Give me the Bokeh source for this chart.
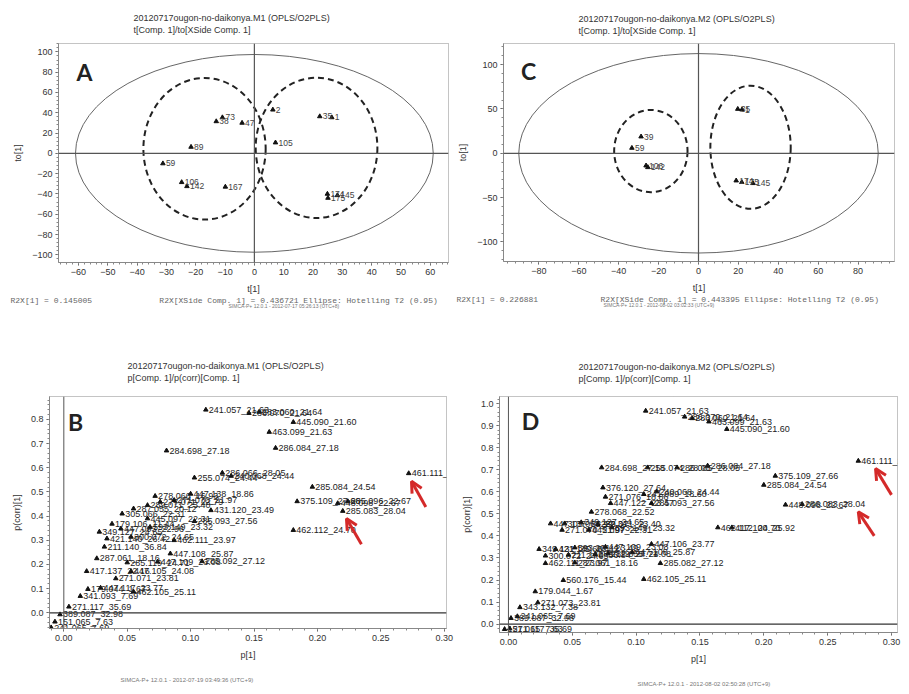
from bokeh.plotting import figure
from bokeh.models import (ColumnDataSource, Span, Label, Arrow, OpenHead, Title,
                          SingleIntervalTicker, PrintfTickFormatter, Range1d)
from bokeh.layouts import column, row
from bokeh.embed import file_html
from bokeh.resources import INLINE
from bokeh.core.properties import value

# ---------------- data: panel A (M1 scores) ----------------
a_labels = ["2", "35", "1", "73", "38", "47", "105", "89", "59", "106", "142", "167", "174", "175", "145"]
a_t = [6.3, 22.3, 26.4, -10.9, -13.0, -4.2, 7.2, -21.6, -31.2, -24.8, -23.0, -9.9, 24.9, 25.1, 28.3]
a_to = [43.0, 36.4, 35.4, 35.4, 31.5, 30.0, 10.6, 6.3, -10.0, -28.5, -32.5, -33.0, -40.0, -44.0, -41.4]
# ellipses: Hotelling T2 and group ellipses (cx, cy, width, height)
a_ell = dict(cx=[0.0], cy=[0.0], w=[122.0], h=[195.0])
a_groups = dict(cx=[-17.0, 21.2], cy=[4.5, 5.4], w=[41.7, 41.5], h=[139.6, 138.3])

# ---------------- data: panel C (M2 scores) ----------------
c_labels = ["39", "59", "106", "142", "35", "1", "174", "175", "145"]
c_t = [-28.8, -33.4, -26.3, -25.4, 19.7, 21.8, 18.9, 21.7, 27.3]
c_to = [18.8, 6.0, -13.9, -15.8, 49.9, 49.2, -30.8, -32.6, -33.8]
c_ell = dict(cx=[0.0], cy=[0.0], w=[180.3], h=[225.0])
c_groups = dict(cx=[-23.9, 26.1], cy=[2.5, 6.8], w=[36.8, 40.3], h=[92.7, 138.9])

# ---------------- data: panel B (M1 loadings) ----------------
b_labels = ["241.057_21.63", "286.070_21.64", "283.060_21.64", "445.090_21.60", "463.099_21.63",
            "284.698_27.18", "286.084_27.18", "461.111_22.70", "255.074_24.44", "286.066_28.05",
            "240.068_24.44", "285.084_24.54", "375.109_27.66", "448.098_22.67", "285.096_22.67",
            "285.083_28.04", "462.112_24.70", "278.066_16.93", "447.138_18.86", "277.071_22.79",
            "271.070_21.97", "289.071_23.40", "431.120_23.49", "305.066_22.31", "287.055_20.12",
            "179.106_11.44", "445.097_22.31", "285.093_27.56", "349.127_24.65", "447.093_22.96",
            "593.149_23.32", "421.140_26.42", "300.072_24.65", "462.111_23.97", "211.140_36.84",
            "447.108_25.87", "287.061_18.16", "285.092_27.12", "447.109_23.08", "285.119_24.71",
            "417.137_22.16", "447.105_24.08", "271.071_23.81", "179.044_1.67", "447.117_23.77",
            "462.105_25.11", "341.093_7.69", "271.117_35.69", "389.087_32.98", "151.065_7.63",
            "241.065_7.69"]
b_p = [0.112, 0.146, 0.154, 0.181, 0.162, 0.081, 0.167, 0.272, 0.103, 0.125,
       0.132, 0.196, 0.184, 0.216, 0.224, 0.220, 0.181, 0.072, 0.100, 0.076,
       0.087, 0.066, 0.116, 0.046, 0.055, 0.038, 0.066, 0.103, 0.028, 0.045,
       0.068, 0.034, 0.053, 0.087, 0.032, 0.084, 0.026, 0.109, 0.074, 0.050,
       0.018, 0.053, 0.041, 0.019, 0.029, 0.055, 0.013, 0.004, -0.003, -0.007,
       -0.010]
b_pcorr = [0.840, 0.826, 0.831, 0.789, 0.748, 0.671, 0.682, 0.577, 0.559, 0.579,
           0.566, 0.521, 0.461, 0.453, 0.461, 0.421, 0.342, 0.483, 0.492, 0.459,
           0.466, 0.445, 0.424, 0.410, 0.431, 0.368, 0.390, 0.379, 0.335, 0.348,
           0.355, 0.307, 0.314, 0.300, 0.273, 0.245, 0.225, 0.213, 0.211, 0.208,
           0.172, 0.172, 0.142, 0.098, 0.103, 0.087, 0.069, 0.025, -0.007, -0.037,
           -0.061]
b_arrows = dict(x0=[0.2855, 0.2347], y0=[0.438, 0.284], x1=[0.2742, 0.2229], y1=[0.544, 0.390])

# ---------------- data: panel D (M2 loadings) ----------------
d_labels = ["241.057_21.63", "286.070_21.64", "283.060_21.64", "463.099_21.63", "445.090_21.60",
            "461.111_22.70", "284.698_27.18", "255.074_28.05", "286.085_28.05", "286.084_27.18",
            "375.109_27.66", "285.084_24.54", "376.120_27.64", "240.068_24.44", "271.076_18.86",
            "241.089_18.60", "447.122_23.47", "285.093_27.56", "448.098_22.67", "286.083_28.04",
            "278.068_22.52", "447.137_22.17", "305.067_22.31", "349.127_24.65", "289.071_23.40",
            "271.070_21.97", "445.097_22.31", "593.149_23.32", "462.112_24.70", "417.100_25.92",
            "349.131_25.66", "421.140_26.42", "593.201_23.49", "447.109_23.08", "447.106_23.77",
            "300.072_24.65", "211.140_36.84", "285.119_24.71", "447.108_25.87", "287.055_24.08",
            "462.111_23.97", "287.061_18.16", "285.082_27.12", "560.176_15.44", "462.105_25.11",
            "179.044_1.67", "271.073_23.81", "343.132_7.38", "241.065_7.69", "389.087_32.98",
            "151.065_7.63", "271.117_35.69"]
d_p = [0.1075, 0.138, 0.144, 0.157, 0.171, 0.274, 0.073, 0.109, 0.132, 0.156,
       0.209, 0.200, 0.074, 0.116, 0.076, 0.106, 0.080, 0.112, 0.217, 0.230,
       0.065, 0.033, 0.044, 0.057, 0.070, 0.042, 0.063, 0.081, 0.164, 0.175,
       0.024, 0.037, 0.052, 0.076, 0.112, 0.029, 0.047, 0.068, 0.097, 0.078,
       0.029, 0.052, 0.119, 0.043, 0.106, 0.021, 0.023, 0.009, 0.007, 0.002,
       -0.003, 0.001]
d_pcorr = [0.967, 0.940, 0.933, 0.918, 0.884, 0.740, 0.710, 0.710, 0.710, 0.718,
           0.672, 0.631, 0.619, 0.601, 0.577, 0.589, 0.548, 0.548, 0.541, 0.544,
           0.509, 0.456, 0.456, 0.461, 0.453, 0.427, 0.427, 0.438, 0.438, 0.438,
           0.340, 0.340, 0.347, 0.350, 0.363, 0.310, 0.314, 0.317, 0.325, 0.320,
           0.276, 0.279, 0.276, 0.199, 0.204, 0.148, 0.098, 0.076, 0.035, 0.027,
           -0.023, -0.020]
d_arrows = dict(x0=[0.300, 0.2865], y0=[0.586, 0.400], x1=[0.2875, 0.274], y1=[0.705, 0.509])

FONT = "Liberation Sans"
MONO = "Liberation Mono"
RED = "#d42a2a"
NB = "\u00a0"


def make_fig(geo, xr, yr, xint, yint, xfmt=None, yfmt=None):
    bl, bt, fw, fh, br, bb = geo
    p = figure(frame_width=fw, frame_height=fh, min_border_left=bl, min_border_top=bt,
               min_border_right=br, min_border_bottom=bb,
               x_range=Range1d(*xr), y_range=Range1d(*yr),
               output_backend="svg", toolbar_location=None)
    p.xaxis.ticker = SingleIntervalTicker(interval=xint, num_minor_ticks=5)
    p.yaxis.ticker = SingleIntervalTicker(interval=yint, num_minor_ticks=5)
    if xfmt:
        p.xaxis.formatter = PrintfTickFormatter(format=xfmt)
    if yfmt:
        p.yaxis.formatter = PrintfTickFormatter(format=yfmt)
    for ax in (p.xaxis[0], p.yaxis[0]):
        ax.major_label_text_font = FONT
        ax.major_label_text_font_size = "9px"
        ax.major_label_text_color = "#333"
        ax.axis_label_text_font = FONT
        ax.axis_label_text_font_size = "9px"
        ax.axis_label_text_font_style = "normal"
        ax.axis_label_text_color = "#333"
        ax.axis_line_color = "#888"
        ax.major_tick_line_color = "#555"
        ax.minor_tick_line_color = "#888"
        ax.major_tick_out = 3
        ax.major_tick_in = 0
        ax.minor_tick_out = 2
        ax.minor_tick_in = 0
        ax.major_label_standoff = 3
        ax.axis_label_standoff = 6
    p.grid.visible = False
    p.outline_line_color = "#888"
    p.outline_line_dash = "1 1"
    p.background_fill_color = "white"
    p.border_fill_color = "white"
    return p


def add_title(p, side, text, offset, size, standoff=0, font=FONT, color="#333"):
    p.add_layout(Title(text=text, align="left", offset=offset, standoff=standoff,
                       text_font=font, text_font_size=f"{size}px", text_color=color,
                       text_font_style="normal", text_line_height=1.2), side)


def canvas_label(p, origin, px, py, text, size, font="Lato", color="#222"):
    p.add_layout(Label(x=px - origin[0], y=py - origin[1], x_units="canvas", y_units="canvas",
                       text=text, text_font=font, text_font_size=f"{size}px",
                       text_color=color, text_align="center", text_baseline="middle",
                       text_font_style="bold"))


def score_panel(p, ell, groups, xs, ys, labels):
    p.ellipse(x=ell["cx"], y=ell["cy"], width=ell["w"], height=ell["h"],
              fill_alpha=0, line_color="#666", line_width=1)
    p.ellipse(x=groups["cx"], y=groups["cy"], width=groups["w"], height=groups["h"],
              fill_alpha=0, line_color="#222", line_width=2, line_dash="6 4")
    p.add_layout(Span(location=0, dimension="width", line_color="#555", line_width=1.2))
    p.add_layout(Span(location=0, dimension="height", line_color="#555", line_width=1.2))
    src = ColumnDataSource(dict(x=xs, y=ys, t=labels))
    p.scatter("x", "y", source=src, marker="triangle", size=4.5, color="#111")
    p.text("x", "y", text="t", source=src, x_offset=3, text_baseline="middle",
           text_font=value(FONT), text_font_size="8.5px", text_color="#444")


def loading_panel(p, xs, ys, labels, arrows):
    p.add_layout(Span(location=0, dimension="width", line_color="#333", line_width=1.3))
    p.add_layout(Span(location=0, dimension="height", line_color="#555", line_width=1))
    src = ColumnDataSource(dict(x=xs, y=ys, t=labels))
    p.scatter("x", "y", source=src, marker="triangle", size=4.5, color="#111")
    p.text("x", "y", text="t", source=src, x_offset=3, text_baseline="middle",
           text_font=value(FONT), text_font_size="9px", text_color="#222")
    for i in range(len(arrows["x0"])):
        p.add_layout(Arrow(x_start=arrows["x0"][i], y_start=arrows["y0"][i],
                           x_end=arrows["x1"][i], y_end=arrows["y1"][i],
                           line_color=RED, line_width=3,
                           end=OpenHead(size=11, line_color=RED, line_width=3)))


# ---------------- panel A ----------------
pA = make_fig((58, 43, 390, 219, 6, 61), (-66.8, 66.2), (-107.6, 108.3), 10, 20)
pA.xaxis.axis_label = "t[1]"
pA.yaxis.axis_label = "to[1]"
score_panel(pA, a_ell, a_groups, a_t, a_to, a_labels)
add_title(pA, "above", "20120717ougon-no-daikonya.M1 (OPLS/O2PLS)\nt[Comp. 1]/to[XSide Comp. 1]", 75, 9, standoff=17)
add_title(pA, "below", "R2X[1] = 0.145005" + NB * 14 +
          "R2X[XSide Comp. 1] = 0.436721 Ellipse: Hotelling T2 (0.95)", -48, 8, standoff=-6, font=MONO, color="#666")
add_title(pA, "below", "SIMCA-P+ 12.0.1 - 2012-07-17 05:26:13 (UTC+8)", 170, 5, standoff=-1, color="#777")
canvas_label(pA, (0, 0), 84, 71, "A", 23)

# ---------------- panel C ----------------
pC = make_fig((49, 41, 391, 218, 7, 64), (-97.8, 98.3), (-122.0, 123.8), 20, 50)
pC.xaxis.axis_label = "t[1]"
pC.yaxis.axis_label = "to[1]"
score_panel(pC, c_ell, c_groups, c_t, c_to, c_labels)
add_title(pC, "above", "20120717ougon-no-daikonya.M2 (OPLS/O2PLS)\nt[Comp. 1]/to[XSide Comp. 1]", 75, 9, standoff=15)
add_title(pC, "below", "R2X[1] = 0.226881" + NB * 13 +
          "R2X[XSide Comp. 1] = 0.443395 Ellipse: Hotelling T2 (0.95)", -47, 8, standoff=-6, font=MONO, color="#666")
add_title(pC, "below", "SIMCA-P+ 12.0.1 - 2012-08-02 03:02:33 (UTC+9)", 100, 5, standoff=-1, color="#777")
canvas_label(pC, (454, 0), 528, 70, "C", 23)

# ---------------- panel B ----------------
pB = make_fig((49, 71, 397, 232, 8, 66), (-0.0113, 0.3018), (-0.065, 0.895), 0.05, 0.1, "%.2f", "%.1f")
pB.xaxis.axis_label = "p[1]"
pB.yaxis.axis_label = "p(corr)[1]"
loading_panel(pB, b_p, b_pcorr, b_labels, b_arrows)
add_title(pB, "above", "20120717ougon-no-daikonya.M1 (OPLS/O2PLS)\np[Comp. 1]/p(corr)[Comp. 1]", 78, 9, standoff=27)
add_title(pB, "below", "SIMCA-P+ 12.0.1 - 2012-07-19 03:49:36 (UTC+9)", 71, 6, standoff=25, color="#777")
canvas_label(pB, (0, 323), 75, 421, "B", 23)

# ---------------- panel D ----------------
pD = make_fig((45, 73, 398, 236, 4, 60), (-0.007, 0.3047), (-0.038, 1.032), 0.05, 0.1, "%.2f", "%.1f")
pD.xaxis.axis_label = "p[1]"
pD.yaxis.axis_label = "p(corr)[1]"
loading_panel(pD, d_p, d_pcorr, d_labels, d_arrows)
add_title(pD, "above", "20120717ougon-no-daikonya.M2 (OPLS/O2PLS)\np[Comp. 1]/p(corr)[Comp. 1]", 79, 9, standoff=25)
add_title(pD, "below", "SIMCA-P+ 12.0.1 - 2012-08-02 02:50:28 (UTC+9)", 138, 6, standoff=25, color="#777")
canvas_label(pD, (454, 323), 530, 420, "D", 23)

layout = column(row(pA, pC), row(pB, pD))
open("out.html", "w").write(file_html(layout, INLINE))
